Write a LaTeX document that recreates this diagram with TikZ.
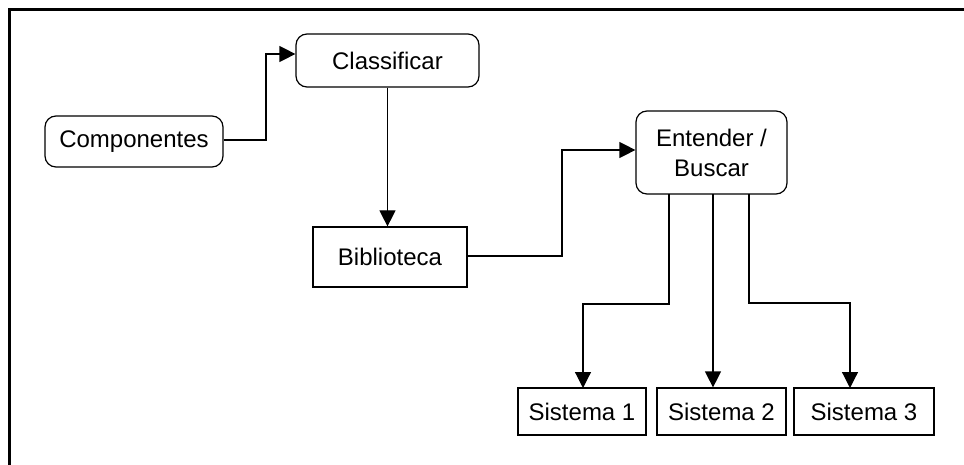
\documentclass[tikz,border=0pt]{standalone}
\usepackage{fontspec}
\setmainfont{Liberation Sans}
\usetikzlibrary{arrows.meta}
\tikzset{
  box/.style={draw=black, line width=1.2pt, inner sep=0pt, minimum height=#1, font=\fontsize{24}{30}\selectfont, align=center},
  roundbox/.style={box=#1, rounded corners=11pt},
  link/.style={draw=black, line width=1.2pt},
  flow/.style={link, -{Triangle[length=16pt,width=16pt]}},
  frameline/.style={draw=black, line width=3pt}
}
\begin{document}
\begin{tikzpicture}[x=1pt,y=-1pt]
  \useasboundingbox (0,0) rectangle (964,465);
  % frame edges
  \draw[frameline] (9.5,466) -- (9.5,9.5) -- (965,9.5);

  % nodes
  \node[roundbox=51pt, minimum width=178pt] (comp) at (134,141.5) {Componentes};
  \node[roundbox=53pt, minimum width=183pt] (class) at (387.5,60.5) {Classificar};
  \node[box=60pt, minimum width=154pt] (bib) at (390,257) {Biblioteca};
  \node[roundbox=83pt, minimum width=151pt] (busca) at (711.5,152.5) {Entender /\\Buscar};
  \node[box=47pt, minimum width=128pt] (s1) at (582,411.5) {Sistema 1};
  \node[box=47pt, minimum width=129pt] (s2) at (721.5,411.5) {Sistema 2};
  \node[box=47pt, minimum width=140pt] (s3) at (864,411.5) {Sistema 3};

  % helper points on the lower edge of the search box
  \coordinate (b1) at (669,194);
  \coordinate (b2) at (713,194);
  \coordinate (b3) at (749,194);

  % connectors
  \draw[flow] ([yshift=1.5pt]comp.east) -- (266,140) -- (266,54) -- ([yshift=6.5pt]class.west);
  \draw[flow] (class.south) -- (class.south |- bib.north);
  \draw[flow] ([yshift=1pt]bib.east) -- (562,256) -- (562,150) -- ([yshift=2.5pt]busca.west);
  \draw[flow] (b1) -- (669,304) -- (583,304) -- (583,388);
  \draw[flow] (b2) -- (b2 |- s2.north);
  \draw[flow] (b3) -- (749,303) -- (850,303) -- (850,388);
\end{tikzpicture}
\end{document}
